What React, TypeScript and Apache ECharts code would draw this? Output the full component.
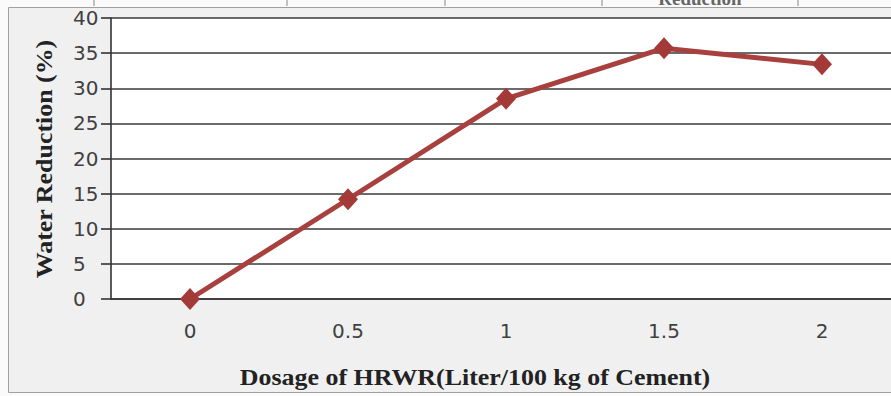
import React, { useEffect, useRef } from "react";
import * as echarts from "echarts";

const categories = ["0", "0.5", "1", "1.5", "2"];
const waterReduction = [0, 14.2, 28.5, 35.7, 33.4];
const xAxisTitle = "Dosage of HRWR(Liter/100 kg of Cement)";
const yAxisTitle = "Water Reduction (%)";
const topTickXs = [94, 287, 445, 602, 798];

export default function App() {
  const ref = useRef<HTMLDivElement>(null);
  useEffect(() => {
    if (!ref.current) return;
    const chart = echarts.init(ref.current, null, { renderer: "svg" });
    const graphics: any[] = [
      {
        type: "rect",
        shape: { x: 8.5, y: 7.5, width: 900, height: 385 },
        style: { fill: "#f0f0f0", stroke: "#a0a0a0", lineWidth: 1 },
        z: -10,
        silent: true,
      },
      {
        type: "text",
        x: 700,
        y: -2,
        style: {
          text: "Reduction",
          font: "bold 19px 'Liberation Serif'",
          fill: "#666",
          textAlign: "center",
          textVerticalAlign: "middle",
        },
        z: -9,
      },
      {
        type: "text",
        x: 475,
        y: 377,
        style: {
          text: xAxisTitle,
          font: "bold 24px 'Liberation Serif'",
          fill: "#222",
          textAlign: "center",
          textVerticalAlign: "middle",
        },
        scaleX: 1.08,
      },
      {
        type: "text",
        x: 44,
        y: 159,
        rotation: Math.PI / 2,
        style: {
          text: yAxisTitle,
          font: "bold 24px 'Liberation Serif'",
          fill: "#222",
          textAlign: "center",
          textVerticalAlign: "middle",
        },
        scaleX: 1.08,
      },
    ];
    topTickXs.forEach((x) => {
      graphics.push({
        type: "line",
        shape: { x1: x, y1: 0, x2: x, y2: 6 },
        style: { stroke: "#888", lineWidth: 1 },
        z: -9,
      });
    });
    chart.setOption({
      animation: false,
      backgroundColor: "#fafafa",
      graphic: graphics,
      grid: {
        left: 111,
        width: 790,
        top: 18,
        bottom: 97,
        show: true,
        backgroundColor: "#ffffff",
        borderWidth: 0,
        containLabel: false,
        outerBoundsMode: "none",
      },
      xAxis: {
        type: "category",
        data: categories,
        boundaryGap: true,
        axisLine: { show: true, lineStyle: { color: "#333", width: 1.6 } },
        axisTick: { show: false },
        axisLabel: {
          color: "#404040",
          fontSize: 20,
          fontFamily: "'DejaVu Sans'",
          margin: 22,
        },
        splitLine: { show: false },
      },
      yAxis: {
        type: "value",
        min: 0,
        max: 40,
        interval: 5,
        axisLine: { show: true, lineStyle: { color: "#333", width: 1.6 } },
        axisTick: { show: true, length: 10, lineStyle: { color: "#333", width: 1.6 } },
        axisLabel: {
          color: "#404040",
          fontSize: 20,
          fontFamily: "'DejaVu Sans'",
          align: "left",
          margin: 38,
        },
        splitLine: { show: true, lineStyle: { color: "#3a3a3a", width: 1.6 } },
      },
      series: [
        {
          type: "line",
          data: waterReduction,
          symbol: "diamond",
          symbolSize: [20, 22],
          clip: false,
          lineStyle: { color: "#a8403d", width: 5 },
          itemStyle: { color: "#a33a37" },
        },
      ],
    });
    return () => chart.dispose();
  }, []);
  return (
    <div
      ref={ref}
      style={{ position: "absolute", left: 0, top: 0, width: 891, height: 396 }}
    />
  );
}
